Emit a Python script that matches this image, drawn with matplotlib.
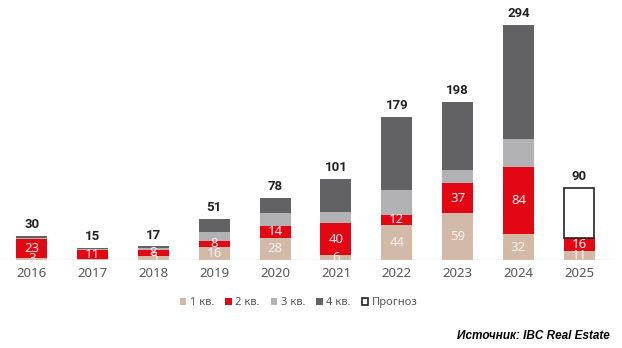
import numpy as np
import matplotlib.pyplot as plt
from matplotlib.patches import Patch

years = ['2016', '2017', '2018', '2019', '2020', '2021', '2022', '2023', '2024', '2025']
q1 = [3, 1, 5, 16, 28, 6, 44, 59, 32, 11]
q2 = [23, 11, 8, 8, 14, 40, 12, 37, 84, 16]
q3 = [1, 2, 2, 11, 17, 14, 32, 16, 35, 0]
q4 = [3, 1, 2, 16, 19, 41, 91, 86, 143, 0]
prognoz = [0, 0, 0, 0, 0, 0, 0, 0, 0, 63]
totals = [30, 15, 17, 51, 78, 101, 179, 198, 294, 90]

# which inner values get a label
show_q1 = [True, False, True, True, True, True, True, True, True, True]
show_q2 = [True] * 10

c_q1 = '#d3baa8'
c_q2 = '#e30613'
c_q3 = '#b2b2b4'
c_q4 = '#626265'

plt.rcParams['font.family'] = ['Noto Sans', 'DejaVu Sans']

fig = plt.figure(figsize=(6.22, 3.48), dpi=100)
ax = fig.add_axes([0, 0.253, 0.985, 0.735])

x = np.arange(len(years))
w = 0.51
b = np.zeros(len(years))
ax.bar(x, q1, w, bottom=b, color=c_q1)
b += q1
ax.bar(x, q2, w, bottom=b, color=c_q2)
b += q2
ax.bar(x, q3, w, bottom=b, color=c_q3)
b += q3
ax.bar(x, q4, w, bottom=b, color=c_q4)
b += q4
ax.bar(x[-1], prognoz[-1], w * 0.96, bottom=b[-1], color='white', edgecolor='#222222', linewidth=1.2)

for i in range(len(years)):
    if show_q1[i]:
        ax.text(x[i], q1[i] / 2, str(q1[i]), ha='center', va='center', color='#f7f0ea', fontsize=9.5)
    if show_q2[i]:
        ax.text(x[i], q1[i] + q2[i] / 2, str(q2[i]), ha='center', va='center', color='#fdeaea', fontsize=9.5)
    ax.text(x[i], totals[i] + 6, str(totals[i]), ha='center', va='bottom', color='#222222',
            fontsize=9.5, fontweight='bold', family=['Roboto', 'DejaVu Sans'])

ax.set_xlim(-0.525, 9.55)
ax.set_ylim(0, 320)
ax.axhline(0, color='#d0d0d0', linewidth=1)
for s in ax.spines.values():
    s.set_visible(False)
ax.set_yticks([])
ax.set_xticks(x)
ax.set_xticklabels(years, color='#555555', fontsize=9.5)
ax.tick_params(axis='x', length=0, pad=5)

handles = [Patch(facecolor=c_q1), Patch(facecolor=c_q2), Patch(facecolor=c_q3), Patch(facecolor=c_q4),
           Patch(facecolor='white', edgecolor='#222222', linewidth=1.2)]
labels = ['1 кв.', '2 кв.', '3 кв.', '4 кв.', 'Прогноз']
fig.legend(handles, labels, loc='center', bbox_to_anchor=(0.48, 0.13), ncol=5, frameon=False,
           fontsize=8, handlelength=0.6, handleheight=0.6, handletextpad=0.3, columnspacing=1.0,
           labelcolor='#555555')

fig.text(0.98, 0.035, 'Источник: IBC Real Estate', ha='right', va='center', fontsize=8.5,
         fontstyle='italic', fontweight='bold', family=['Liberation Sans', 'DejaVu Sans'])

fig.savefig('out.png', dpi=100)
